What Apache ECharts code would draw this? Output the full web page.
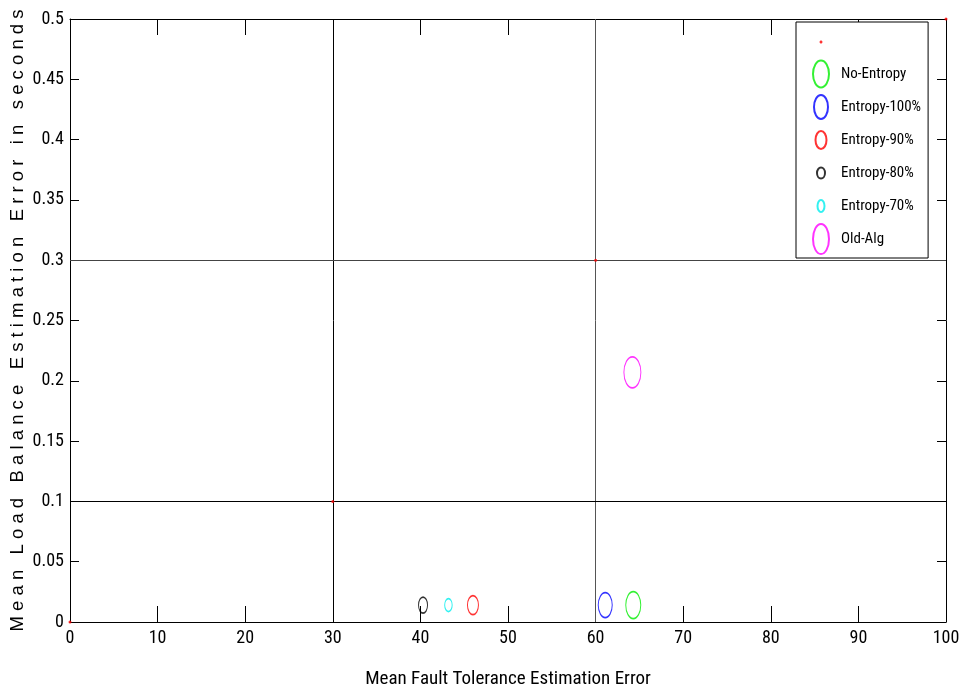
<!DOCTYPE html>
<html>
<head>
<meta charset="utf-8">
<script src="https://cdn.jsdelivr.net/npm/echarts@6/dist/echarts.min.js"></script>
<style>
html,body{margin:0;padding:0;background:#fff;}
#chart{width:959px;height:695px;}
</style>
</head>
<body>
<div id="chart"></div>
<script>
// ---- data ----
var refPoints = [[0, 0], [30, 0.1], [60, 0.3], [100, 0.5]];
var noEntropy = [[64.3, 0.014]];
var entropy100 = [[61.1, 0.014]];
var entropy90 = [[46.0, 0.014]];
var entropy80 = [[40.3, 0.014]];
var entropy70 = [[43.2, 0.014]];
var oldAlg = [[64.2, 0.207]];
var refLinesX = [30, 60];
var refLinesY = [0.1, 0.3];
var legendNames = [' ', 'No-Entropy', 'Entropy-100%', 'Entropy-90%', 'Entropy-80%', 'Entropy-70%', 'Old-Alg'];

var NARROW = "'Liberation Sans Narrow','Arial Narrow','Roboto Condensed',Roboto,sans-serif";

function ellipsePath(rx, ry, bx, by) {
  var k = 0.5523;
  var p = 'path://';
  if (bx) p += 'M' + (-bx) + ',' + (-by) + ' M' + bx + ',' + by + ' ';
  p += 'M' + rx + ',0 C' + rx + ',' + (k * ry) + ' ' + (k * rx) + ',' + ry + ' 0,' + ry +
       ' C' + (-k * rx) + ',' + ry + ' ' + (-rx) + ',' + (k * ry) + ' ' + (-rx) + ',0' +
       ' C' + (-rx) + ',' + (-k * ry) + ' ' + (-k * rx) + ',' + (-ry) + ' 0,' + (-ry) +
       ' C' + (k * rx) + ',' + (-ry) + ' ' + rx + ',' + (-k * ry) + ' ' + rx + ',0 Z';
  return p;
}
var ELL = ellipsePath(1, 1);

function ringSeries(name, data, color, w, h) {
  return {
    name: name, type: 'scatter', data: data,
    symbol: ELL, symbolSize: [w, h],
    itemStyle: { color: 'rgba(0,0,0,0)', borderColor: color, borderWidth: 1.3 },
    emphasis: { disabled: true }, z: 5
  };
}

var chart = echarts.init(document.getElementById('chart'), null, { renderer: 'canvas' });

var markData = [];
refLinesX.forEach(function (v, i) {
  markData.push({ xAxis: v, lineStyle: { color: i === 1 ? '#555' : '#000' } });
});
refLinesY.forEach(function (v, i) {
  markData.push({ yAxis: v, lineStyle: { color: i === 1 ? '#444' : '#000' } });
});

var legendIcons = [
  ellipsePath(1.5, 1.5, 15, 16),
  ellipsePath(8, 13.5, 15, 16),
  ellipsePath(7, 12, 15, 16),
  ellipsePath(5.5, 9, 15, 16),
  ellipsePath(4, 5.5, 15, 16),
  ellipsePath(3.5, 6, 15, 16),
  ellipsePath(8, 15, 15, 16)
];

var option = {
  animation: false,
  backgroundColor: '#fff',
  grid: { left: 70, right: 13, top: 19, bottom: 73, containLabel: false, outerBoundsMode: 'none' },
  legend: {
    orient: 'vertical', left: 796, top: 22,
    padding: [4, 7, 2, 9],
    itemWidth: 30, itemHeight: 32, itemGap: -1,
    borderColor: '#000', borderWidth: 1, backgroundColor: '#fff',
    textStyle: { fontFamily: NARROW, fontSize: 15, color: '#000' },
    data: legendNames.map(function (n, i) { return { name: n, icon: legendIcons[i] }; }),
    selectedMode: false
  },
  xAxis: [{
    type: 'value', min: 0, max: 100, interval: 10,
    name: 'Mean Fault Tolerance Estimation Error',
    nameLocation: 'middle', nameGap: 48, nameMoveOverlap: false,
    nameTextStyle: { fontFamily: NARROW, fontSize: 19, color: '#000' },
    axisLine: { show: true, onZero: false, lineStyle: { color: '#000', width: 1 } },
    axisTick: { show: true, inside: true, length: 16, lineStyle: { color: '#000' } },
    axisLabel: { fontFamily: NARROW, fontSize: 18, color: '#000', margin: 7 },
    splitLine: { show: false }
  }, {
    type: 'value', min: 0, max: 100, interval: 10, position: 'top',
    axisLine: { show: true, onZero: false, lineStyle: { color: '#000', width: 1 } },
    axisTick: { show: true, inside: true, length: 16, lineStyle: { color: '#000' } },
    axisLabel: { show: false }, splitLine: { show: false }
  }],
  yAxis: [{
    type: 'value', min: 0, max: 0.5, interval: 0.05,
    name: 'M e a n   L o a d   B a l a n c e   E s t i m a t i o n   E r r o r   i n   s e c o n d s',
    nameLocation: 'middle', nameGap: 43, nameRotate: 90, nameMoveOverlap: false,
    nameTextStyle: { fontFamily: "'Liberation Sans',Arial,sans-serif", fontSize: 18.5, color: '#000' },
    axisLine: { show: true, onZero: false, lineStyle: { color: '#000', width: 1 } },
    axisTick: { show: true, inside: true, length: 9, lineStyle: { color: '#000' } },
    axisLabel: { fontFamily: NARROW, fontSize: 18, color: '#000', margin: 6 },
    splitLine: { show: false }
  }, {
    type: 'value', min: 0, max: 0.5, interval: 0.05, position: 'right',
    axisLine: { show: true, onZero: false, lineStyle: { color: '#000', width: 1 } },
    axisTick: { show: true, inside: true, length: 9, lineStyle: { color: '#000' } },
    axisLabel: { show: false }, splitLine: { show: false }
  }],
  series: [
    {
      name: ' ', type: 'scatter', data: refPoints,
      symbol: 'circle', symbolSize: 3,
      itemStyle: { color: '#ff0000' }, z: 10,
      emphasis: { disabled: true },
      markLine: {
        silent: true, symbol: ['none', 'none'], animation: false,
        label: { show: false },
        lineStyle: { type: 'solid', width: 1, color: '#000' },
        data: markData
      }
    },
    ringSeries('No-Entropy', noEntropy, '#00ee00', 15, 27),
    ringSeries('Entropy-100%', entropy100, '#0000ff', 14, 25),
    ringSeries('Entropy-90%', entropy90, '#ff0000', 11, 19),
    ringSeries('Entropy-80%', entropy80, '#000000', 9, 16),
    ringSeries('Entropy-70%', entropy70, '#00eeee', 7.5, 13),
    ringSeries('Old-Alg', oldAlg, '#ff00ff', 17, 31)
  ]
};
chart.setOption(option);
</script>
</body>
</html>
